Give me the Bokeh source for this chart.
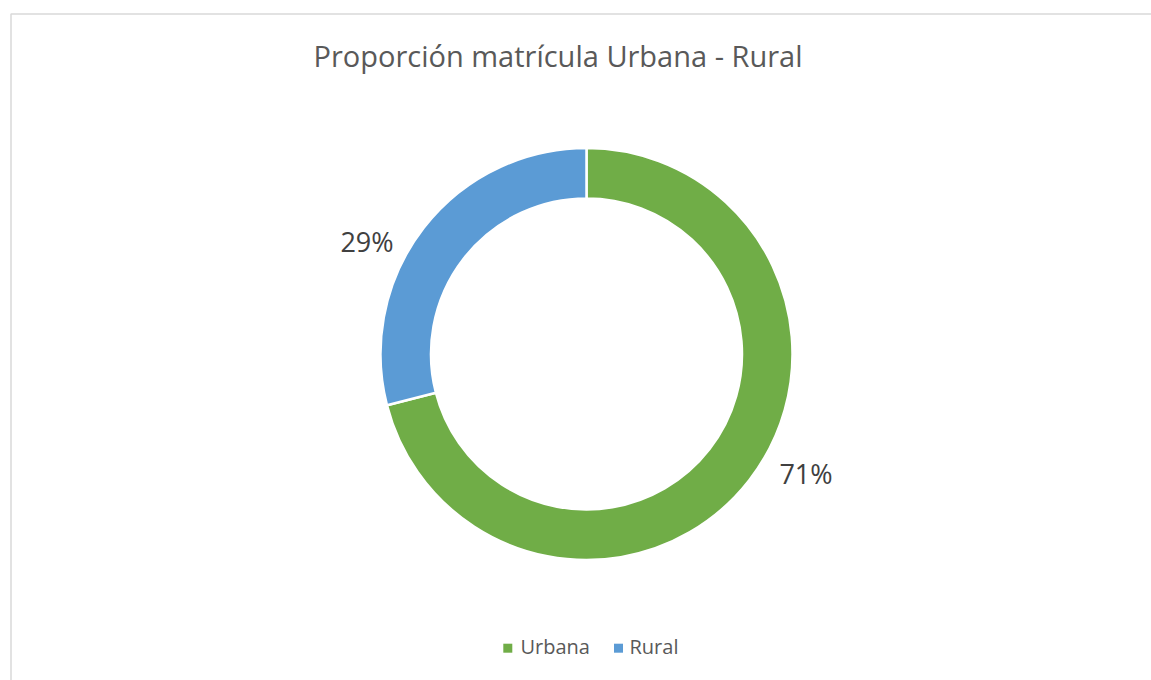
import numpy as np
from bokeh.plotting import figure
from bokeh.models import Range1d
from bokeh.core.properties import value
from bokeh.embed import file_html
from bokeh.resources import INLINE

# ---- data ----
categories = ["Urbana", "Rural"]
shares = [71, 29]
pct_labels = ["71%", "29%"]
colors = ["#70ad47", "#5b9bd5"]
title_text = "Proporción matrícula Urbana - Rural"

# ---- layout constants (screen pixels of the picture) ----
W, H = 1151, 680
FONT = "Open Sans"


def sx(x):
    return x


def sy(y):
    return H - y


p = figure(width=W, height=H, x_range=Range1d(0, W), y_range=Range1d(0, H),
           output_backend="svg", toolbar_location=None, min_border=0)
p.axis.visible = False
p.grid.visible = False
p.outline_line_color = None
p.background_fill_color = "white"
p.border_fill_color = "white"

# chart frame
p.quad(left=sx(10.5), right=sx(1180), top=sy(13.5), bottom=sy(720),
       fill_color=None, line_color="#d9d9d9", line_width=1.5)

# donut
cx, cy = sx(586), sy(353.5)
r_out, r_in = 206, 155.5
frac = np.array(shares, dtype=float) / sum(shares)
cum = np.cumsum(frac)
start = np.pi / 2 - 2 * np.pi * (cum - frac)
end = np.pi / 2 - 2 * np.pi * cum
p.annular_wedge(x=cx, y=cy, inner_radius=r_in, outer_radius=r_out,
                start_angle=list(start), end_angle=list(end), direction="clock",
                fill_color=colors, line_color="white", line_width=2.5)

# data labels
lab_x = [sx(805.5), sx(366.5)]
lab_y = [sy(473), sy(241)]
p.text(x=lab_x, y=lab_y, text=pct_labels, text_font=value(FONT),
       text_font_size="27px", text_color="#404040", text_align="center",
       text_baseline="alphabetic")

# title
p.text(x=[sx(557.5)], y=[sy(55)], text=[title_text], text_font=value(FONT),
       text_font_size="29px", text_color="#595959", text_align="center",
       text_baseline="alphabetic")

# legend
leg_sq_x = [sx(507.3), sx(618)]
leg_tx_x = [sx(520), sx(629)]
p.scatter(x=leg_sq_x, y=[sy(647.7)] * 2, marker="square", size=9,
          fill_color=colors, line_color=None)
p.text(x=leg_tx_x, y=[sy(646)] * 2, text=categories, text_font=value(FONT),
       text_font_size="20px", text_color="#595959", text_align="left",
       text_baseline="alphabetic")

open("out.html", "w").write(file_html(p, INLINE))
